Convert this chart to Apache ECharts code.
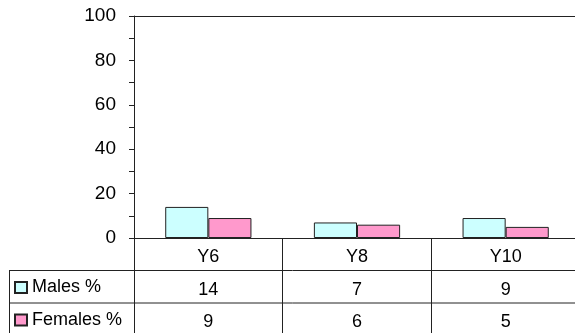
<!DOCTYPE html>
<html><head><meta charset="utf-8">
<script src="https://cdn.jsdelivr.net/npm/echarts@6/dist/echarts.min.js"></script>
<style>html,body{margin:0;padding:0;background:#fff}#c{width:575px;height:333px}</style>
</head><body><div id="c"></div>
<script>
var categories = ['Y6', 'Y8', 'Y10'];
var males = [14, 7, 9];
var females = [9, 6, 5];
var seriesNames = ['Males %', 'Females %'];
var yTicks = [0, 20, 40, 60, 80, 100];

var chart = echarts.init(document.getElementById('c'), null, {renderer: 'canvas'});
var FONT = 'Liberation Sans, Arial, sans-serif';
var LINE = '#222';
var gridLeft = 134, gridTop = 16, gridH = 222, gridW = 446;
var rowH = 32.5;
var axisY = gridTop + gridH;

function legendAt(name, top) {
  return {
    orient: 'vertical', left: 14, top: top,
    itemWidth: 12, itemHeight: 11, itemGap: 0, padding: 0,
    icon: 'rect',
    textStyle: {fontFamily: FONT, fontSize: 18, color: '#000', padding: [0, 0, 0, 0]},
    data: [name]
  };
}

chart.setOption({
  animation: false,
  backgroundColor: '#fff',
  grid: {left: gridLeft, top: gridTop, width: gridW, height: gridH, containLabel: false, outerBoundsMode: 'none'},
  legend: [legendAt(seriesNames[0], axisY + rowH + 8), legendAt(seriesNames[1], axisY + 2 * rowH + 8)],
  xAxis: [{
    type: 'category', data: categories, position: 'bottom',
    axisLine: {show: true, lineStyle: {color: LINE, width: 1}},
    axisTick: {show: true, inside: false, length: 100, alignWithLabel: false, lineStyle: {color: LINE}},
    axisLabel: {
      margin: 3, fontFamily: FONT, fontSize: 18, color: '#000', lineHeight: rowH,
      formatter: function (v, i) { return v + '\n' + males[i] + '\n' + females[i]; }
    }
  }, {
    type: 'category', data: categories, position: 'top',
    axisLine: {show: true, lineStyle: {color: LINE, width: 1}},
    axisTick: {show: false}, axisLabel: {show: false}
  }],
  yAxis: {
    type: 'value', min: 0, max: 100, interval: 20,
    axisLine: {show: true, lineStyle: {color: LINE, width: 1}},
    axisTick: {show: true, length: 5, lineStyle: {color: LINE}},
    minorTick: {show: true, splitNumber: 2, length: 5, lineStyle: {color: LINE}},
    splitLine: {show: false},
    axisLabel: {margin: 18, fontFamily: FONT, fontSize: 19, color: '#000',
      formatter: function (v) { return yTicks.indexOf(v) >= 0 ? String(v) : ''; }}
  },
  series: [{
    name: seriesNames[0], type: 'bar', data: males, barGap: '0%', barCategoryGap: '42%',
    itemStyle: {color: '#CCFFFF', borderColor: LINE, borderWidth: 1}
  }, {
    name: seriesNames[1], type: 'bar', data: females,
    itemStyle: {color: '#FF99CC', borderColor: LINE, borderWidth: 1}
  }],
  graphic: [
    {type: 'line', silent: true, shape: {x1: 9, y1: axisY + rowH, x2: 580, y2: axisY + rowH}, style: {stroke: LINE, lineWidth: 1}},
    {type: 'line', silent: true, shape: {x1: 9, y1: axisY + 2 * rowH, x2: 580, y2: axisY + 2 * rowH}, style: {stroke: LINE, lineWidth: 1}},
    {type: 'line', silent: true, shape: {x1: 9.5, y1: axisY + rowH, x2: 9.5, y2: 340}, style: {stroke: LINE, lineWidth: 1}}
  ]
});
</script></body></html>
